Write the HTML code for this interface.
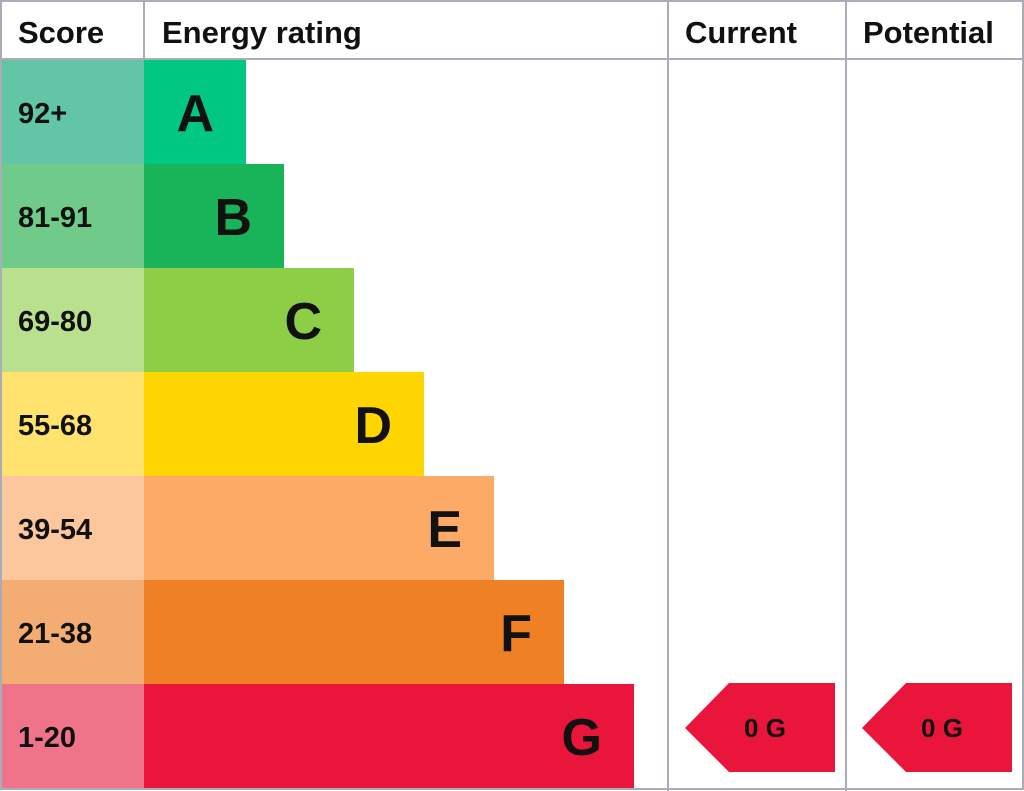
<!DOCTYPE html>
<html><head><meta charset="utf-8"><style>
html,body{margin:0;padding:0;background:#fff;}
svg{display:block;font-family:"Liberation Sans",sans-serif;}
</style></head><body>
<svg width="1024" height="791" viewBox="0 0 1024 791">
<g id="rows"></g>
<g id="grid" stroke="#a8adb8" stroke-width="2" fill="none">
<rect x="1" y="1" width="1022" height="788"/>
<line x1="0" y1="59" x2="1024" y2="59"/>
<line x1="144" y1="0" x2="144" y2="59"/>
<line x1="668" y1="0" x2="668" y2="791"/>
<line x1="846" y1="0" x2="846" y2="791"/>
</g>
<g font-size="31" font-weight="bold" fill="#111">
<text x="18" y="43">Score</text>
<text x="162" y="43">Energy rating</text>
<text x="685" y="43">Current</text>
<text x="863" y="43">Potential</text>
</g>
<g id="arrows"></g>
</svg>
<script>
const bands=["A","B","C","D","E","F","G"];
const ranges=["92+","81-91","69-80","55-68","39-54","21-38","1-20"];
const barEnds=[246,284,354,424,494,564,634];
const barColors=["#00c781","#19b459","#8dce46","#ffd500","#fcaa65","#ef8023","#e9153b"];
const scoreColors=["#62c6a6","#70ca8a","#b8e08d","#ffe36e","#fdc79d","#f3ac72","#f07489"];
const currentScore=0, currentBand="G";
const potentialScore=0, potentialBand="G";
const NS="http://www.w3.org/2000/svg";
const rowTop=i=>60+i*104;
const rows=document.getElementById('rows');
function mk(tag,attrs,parent){const e=document.createElementNS(NS,tag);for(const k in attrs)e.setAttribute(k,attrs[k]);parent.appendChild(e);return e;}
bands.forEach((b,i)=>{
  const y=rowTop(i);
  const s=mk('rect',{x:0,y:y,width:144,height:104,fill:scoreColors[i]},rows);
  
  
  const r=mk('rect',{x:144,y:y,width:barEnds[i]-144,height:104,fill:barColors[i]},rows);
  
  
  const t=mk('text',{x:18,y:y+63,'font-size':29,'font-weight':'bold',fill:'#111'},rows);
  t.textContent=ranges[i];
  
  
  const l=mk('text',{x:barEnds[i]-32,y:y+71,'font-size':52,'font-weight':'bold','text-anchor':'end',fill:'#111'},rows);
  l.textContent=b;
  
  
});
const arrows=document.getElementById('arrows');
function arrow(x0,score,band,name){
  const i=bands.indexOf(band);const y=rowTop(i)-1;
  const p=mk('polygon',{points:`${x0},${y+45} ${x0+44},${y} ${x0+150},${y} ${x0+150},${y+89} ${x0+44},${y+89}`,fill:barColors[i]},arrows);
  
  
  const t=mk('text',{x:x0+80,y:y+54,'font-size':26,'font-weight':'bold','text-anchor':'middle',fill:'#111'},arrows);
  t.textContent=score+' '+band;
  
  
}
arrow(685,currentScore,currentBand,'current');
arrow(862,potentialScore,potentialBand,'potential');
</script>
</body></html>
